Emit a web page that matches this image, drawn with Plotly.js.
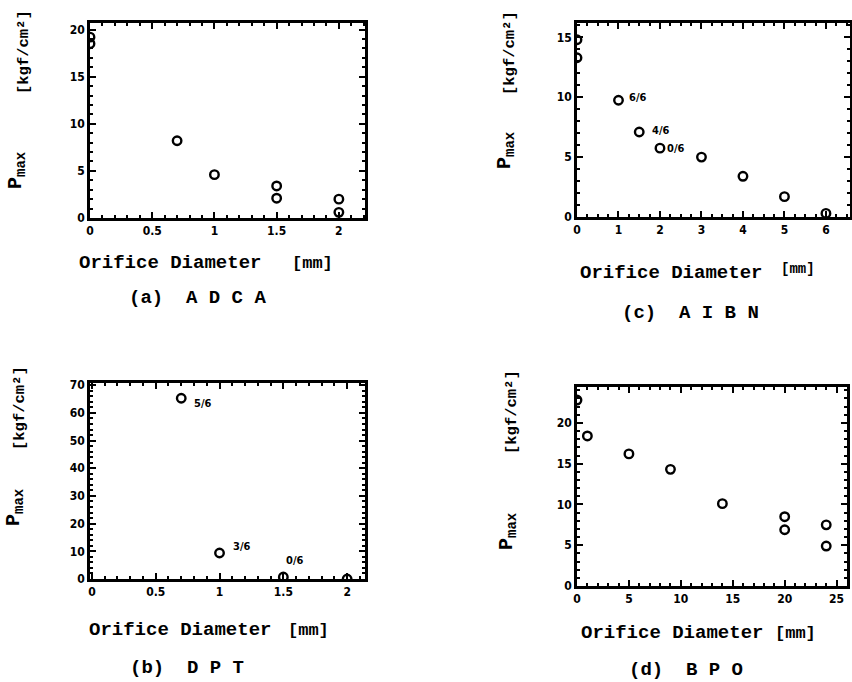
<!DOCTYPE html>
<html>
<head>
<meta charset="utf-8">
<script src="https://cdn.plot.ly/plotly-3.0.1.min.js"></script>
<style>html,body{margin:0;padding:0;background:#fff;}#chart{width:852px;height:682px;}</style>
</head>
<body>
<div id="chart"></div>
<script>
// ---- Data ----
const adcaX = [0, 0, 0.7, 1.0, 1.5, 1.5, 2.0, 2.0];
const adcaY = [19.2, 18.5, 8.2, 4.6, 3.4, 2.1, 2.0, 0.6];

const aibnX = [0, 0, 1, 1.5, 2, 3, 4, 5, 6];
const aibnY = [14.8, 13.3, 9.75, 7.1, 5.75, 5.0, 3.4, 1.7, 0.3];
const aibnLabelX = [1, 1.5, 2];
const aibnLabelY = [9.75, 7.1, 5.75];
const aibnLabels = ["6/6", "4/6", "0/6"];

const dptX = [0.7, 1.0, 1.5, 2.0];
const dptY = [65.3, 9.4, 0.7, 0];
const dptLabelX = [0.7, 1.0, 1.5];
const dptLabelY = [65.3, 9.4, 0.7];
const dptLabels = ["5/6", "3/6", "0/6"];

const bpoX = [0, 1, 5, 9, 14, 20, 20, 24, 24];
const bpoY = [22.8, 18.4, 16.2, 14.3, 10.1, 8.5, 6.9, 7.5, 4.9];

const xTitle = "Orifice Diameter";
const xUnit = "[mm]";
const yTitleP = "P<sub>max</sub>";
const yUnit = "[kgf/cm²]";
const captions = ["(a)  A D C A", "(b)  D P T", "(c)  A I B N", "(d)  B P O"];

// ---- Helpers ----
const W = 852, H = 682;
const px = x => x / W;
const py = y => 1 - y / H;
const mono = "Liberation Mono, Courier New, DejaVu Sans Mono, monospace";
const narrow = "Liberation Sans Narrow, Arial Narrow, DejaVu Sans Condensed, sans-serif";

function axis(domain, range, dtick, minorDtick, anchor) {
  return {
    domain: domain, range: range, dtick: dtick, tick0: 0, anchor: anchor,
    ticks: "inside", ticklen: 6, tickwidth: 2.2, tickcolor: "#000",
    showline: true, linewidth: 2.5, linecolor: "#000", mirror: "allticks",
    showgrid: false, zeroline: false,
    tickfont: {family: narrow, size: 12, color: "#000", weight: "bold"},
    minor: {dtick: minorDtick, ticks: "inside", ticklen: 3.5, tickwidth: 1.5, tickcolor: "#000", showgrid: false}
  };
}

function pts(x, y, xa, ya) {
  return {
    x: x, y: y, xaxis: xa, yaxis: ya, type: "scatter", mode: "markers",
    marker: {symbol: "circle-open", size: 8.5, color: "#000", line: {width: 2.4, color: "#000"}},
    hoverinfo: "x+y"
  };
}

const data = [
  pts(adcaX, adcaY, "x", "y"),
  pts(dptX, dptY, "x2", "y2"),
  pts(aibnX, aibnY, "x3", "y3"),
  pts(bpoX, bpoY, "x4", "y4")
];

const ann = [];
function txt(x, y, text, size, opts) {
  ann.push(Object.assign({
    xref: "paper", yref: "paper", x: px(x), y: py(y), text: text,
    showarrow: false, xanchor: "center", yanchor: "middle",
    font: {family: mono, size: size, color: "#000", weight: "bold"}
  }, opts || {}));
}

// x titles
txt(170, 263, xTitle, 19); txt(312, 263, xUnit, 17);
txt(180, 630, xTitle, 19); txt(308, 630, xUnit, 17);
txt(671, 273, xTitle, 19); txt(798, 269, xUnit, 14);
txt(672, 633, xTitle, 19); txt(795, 633, xUnit, 17);

// captions
txt(197, 298, captions[0], 19);
txt(187, 668, captions[1], 19);
txt(690, 313, captions[2], 19);
txt(686, 670, captions[3], 19);

// y titles
txt(16, 170, yTitleP, 20, {textangle: -90});
txt(24, 52, yUnit, 15.5, {textangle: -90});
txt(14, 507, yTitleP, 20, {textangle: -90});
txt(20, 408, yUnit, 15.5, {textangle: -90});
txt(505, 150, yTitleP, 20, {textangle: -90});
txt(510, 53, yUnit, 15.5, {textangle: -90});
txt(507, 531, yTitleP, 20, {textangle: -90});
txt(512, 412, yUnit, 15.5, {textangle: -90});

// point labels
const aibnShift = [[20, 3], [22, 1], [16, 0]];
aibnLabels.forEach((t, i) => ann.push({
  xref: "x3", yref: "y3", x: aibnLabelX[i], y: aibnLabelY[i], text: t, showarrow: false,
  xshift: aibnShift[i][0], yshift: aibnShift[i][1],
  font: {family: narrow, size: 11, color: "#000", weight: "bold"}
}));
const dptShift = [[22, -5], [22, 6], [12, 17]];
dptLabels.forEach((t, i) => ann.push({
  xref: "x2", yref: "y2", x: dptLabelX[i], y: dptLabelY[i], text: t, showarrow: false,
  xshift: dptShift[i][0], yshift: dptShift[i][1],
  font: {family: narrow, size: 11, color: "#000", weight: "bold"}
}));

const layout = {
  width: W, height: H, margin: {l: 0, r: 0, t: 0, b: 0},
  paper_bgcolor: "#fff", plot_bgcolor: "#fff", showlegend: false,
  xaxis: axis([px(90), px(365)], [0, 2.21], 0.5, 0.1, "y"),
  yaxis: axis([py(218), py(23)], [0, 20.7], 5, 1, "x"),
  xaxis2: axis([px(90), px(365)], [-0.015, 2.14], 0.5, 0.1, "y2"),
  yaxis2: axis([py(579), py(383)], [0, 70.8], 10, 2, "x2"),
  xaxis3: axis([px(577), px(850)], [0, 6.58], 1, 0.25, "y3"),
  yaxis3: axis([py(217), py(23)], [0, 16.2], 5, 1, "x3"),
  xaxis4: axis([px(577), px(847)], [0, 26], 5, 1, "y4"),
  yaxis4: axis([py(586), py(387)], [0, 24.4], 5, 1, "x4"),
  annotations: ann
};

Plotly.newPlot("chart", data, layout, {displayModeBar: false});
</script>
</body>
</html>
